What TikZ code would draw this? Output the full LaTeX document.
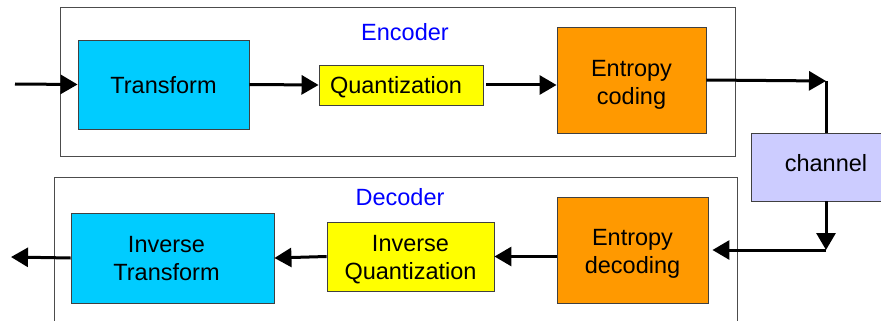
\documentclass[tikz,border=0pt]{standalone}
\usepackage{fontspec}
\setmainfont{Liberation Sans}
\usetikzlibrary{arrows.meta}
\definecolor{tcyan}{HTML}{00CCFF}
\definecolor{qyellow}{HTML}{FFFF00}
\definecolor{eorange}{HTML}{FF9900}
\definecolor{chlav}{HTML}{CCCCFF}
\definecolor{lblue}{HTML}{0000FF}
\begin{document}
\begin{tikzpicture}[x=1pt,y=-1pt,
  every node/.style={font=\fontsize{23.5}{28}\selectfont},
  blockbox/.style={draw=black!75,line width=0.9pt,inner sep=0pt,align=center},
  oneline/.style={text height=17pt,text depth=0pt},
  twoline/.style={text height=#1,text depth=0pt},
  outerbox/.style={draw=black!70,line width=1pt},
  flow/.style={line width=3pt,-{Triangle[length=17pt,width=19pt]}},
  plainflow/.style={line width=3pt},
  grouplabel/.style={text=lblue}]
\useasboundingbox (0,0) rectangle (881,321);

% encoder and decoder frames
\draw[outerbox] (60,8) rectangle (735,156);
\draw[outerbox] (54,177) rectangle (737,340);
\node[grouplabel] (enc) at (405,32) {Encoder};
\node[grouplabel] (dec) at (400,197.5) {Decoder};

% encoder blocks
\node[blockbox,oneline,fill=tcyan,minimum width=171pt,minimum height=89pt] (t) at (163.5,84.5) {Transform};
\node[blockbox,oneline,fill=qyellow,minimum width=164pt,minimum height=40pt] (q) at (401,85) {Quantization\hspace*{10pt}};
\node[blockbox,twoline=48pt,fill=eorange,minimum width=149pt,minimum height=106pt] (ec) at (631.5,80) {Entropy\\coding};

% channel
\node[blockbox,text height=17.2pt,text depth=8pt,fill=chlav,minimum width=150pt,minimum height=68pt] (ch) at (826,167) {channel};

% decoder blocks
\node[blockbox,twoline=46.6pt,fill=eorange,minimum width=151pt,minimum height=106pt] (ed) at (632.5,250) {Entropy\\decoding};
\node[blockbox,twoline=45.8pt,fill=qyellow,minimum width=167pt,minimum height=69pt] (iq) at (410.5,256.5) {Inverse\\Quantization};
\node[blockbox,twoline=44.8pt,fill=tcyan,minimum width=203pt,minimum height=90pt] (it) at (172.5,258) {Inverse\hspace*{12pt}\\Transform\hspace*{12pt}};

% free ends and corners
\coordinate (in) at (15,84);
\coordinate (out) at (11,257);
\coordinate (c1) at (826,81);
\coordinate (c2) at (826,250);

% connectors
\draw[flow] (in) -- (t.west);
\draw[flow] (t.east) -- (q.west);
\draw[flow] ([xshift=3pt]q.east) -- (q.east -| ec.west);
\draw[flow] (ec.east) -- (c1);
\draw[plainflow] (c1) -- (ch.north);
\draw[flow] (ch.south) -- (c2);
\draw[flow] (c2) -- ([xshift=4pt]ed.east);
\draw[flow] (ed.west |- iq.east) -- (iq.east);
\draw[flow] (iq.west) -- (it.east);
\draw[flow] (it.west) -- (out);
\end{tikzpicture}
\end{document}
